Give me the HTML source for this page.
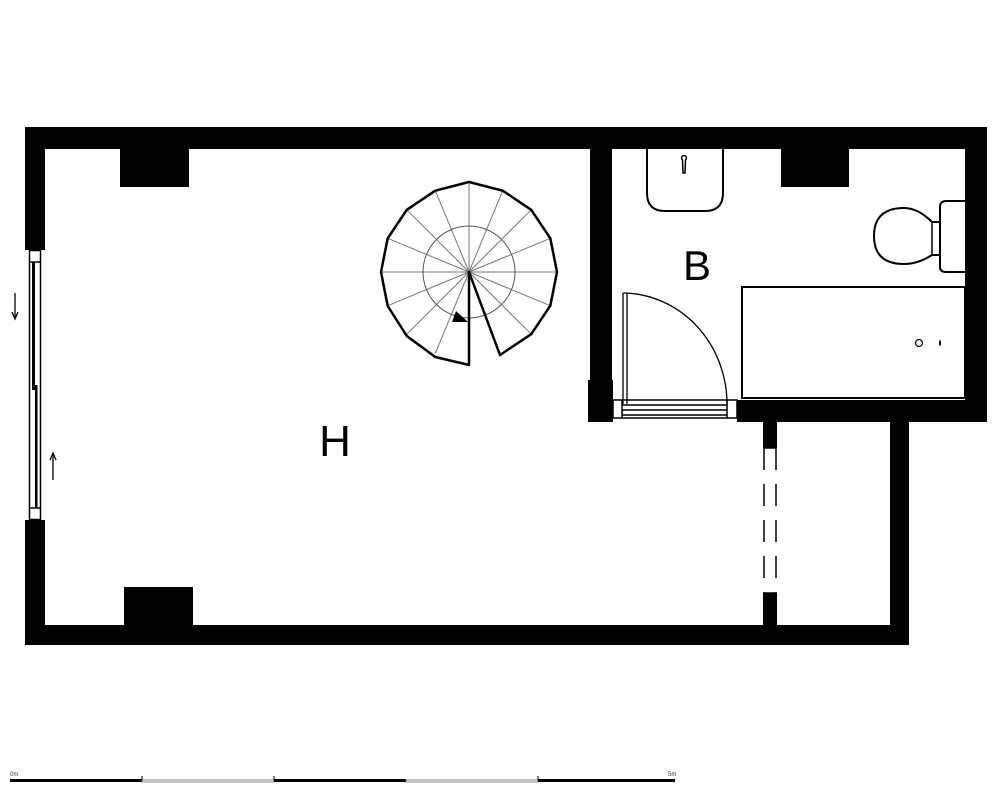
<!DOCTYPE html>
<html><head><meta charset="utf-8"><style>
html,body{margin:0;padding:0;background:#fff;width:1000px;height:800px;overflow:hidden}
svg{display:block}
text{font-family:"Liberation Sans",sans-serif}
</style></head><body>
<svg width="1000" height="800" viewBox="0 0 1000 800" xmlns="http://www.w3.org/2000/svg">
<g fill="#000">
<rect x="25" y="127" width="962" height="22"/>
<rect x="25" y="127" width="20" height="123"/>
<rect x="25" y="520" width="20" height="125"/>
<rect x="25" y="625" width="884" height="20"/>
<rect x="890" y="400" width="19" height="245"/>
<rect x="965" y="127" width="22" height="295"/>
<rect x="737" y="400" width="250" height="22"/>
<rect x="590" y="127" width="22" height="295"/>
<rect x="120" y="149" width="69" height="38"/>
<rect x="124" y="587" width="69" height="38"/>
<rect x="781" y="149" width="68" height="38"/>
<rect x="763" y="422" width="14" height="26"/>
<rect x="763" y="593" width="14" height="32"/>
</g>
<!-- dashed opening -->
<g stroke="#000" stroke-width="1.5">
<line x1="764" y1="448" x2="776" y2="448"/>
<line x1="764" y1="593" x2="776" y2="593"/>
<line x1="764" y1="448" x2="764" y2="593" stroke-dasharray="22,14"/>
<line x1="776" y1="448" x2="776" y2="593" stroke-dasharray="22,14"/>
</g>
<!-- left window -->
<g fill="none" stroke="#000" stroke-width="1.5">
<rect x="29.5" y="250.5" width="11" height="269"/>
<line x1="29.5" y1="262" x2="40.5" y2="262"/>
<line x1="29.5" y1="508" x2="40.5" y2="508"/>
</g>
<rect x="32" y="262" width="3" height="128" fill="#000"/>
<rect x="35" y="385" width="2.5" height="123" fill="#000"/>
<g stroke="#000" stroke-width="1.3" fill="none">
<line x1="15" y1="293" x2="15" y2="318"/><path d="M12,312 L15,319 L18,312"/>
<line x1="53" y1="480" x2="53" y2="454"/><path d="M50,460 L53,453 L56,460"/>
</g>
<!-- door threshold -->
<g fill="none" stroke="#000" stroke-width="1.5">
<rect x="613" y="400" width="124" height="18"/>
<line x1="622" y1="405" x2="727" y2="405"/>
<line x1="622" y1="410" x2="727" y2="410"/>
<line x1="622" y1="415" x2="727" y2="415"/>
<line x1="622" y1="400" x2="622" y2="418"/>
<line x1="727" y1="400" x2="727" y2="418"/>
</g>
<rect x="588" y="380" width="25" height="42" fill="#000"/>
<!-- door -->
<g fill="none" stroke="#000" stroke-width="1.3">
<line x1="623" y1="293" x2="623" y2="404"/>
<line x1="627" y1="293" x2="627" y2="404"/>
<path d="M623,293 A105,111 0 0 1 727,404"/>
</g>
<!-- bathtub -->
<rect x="742" y="287" width="223" height="111" fill="none" stroke="#000" stroke-width="2"/>
<circle cx="919" cy="343" r="3.5" fill="none" stroke="#000" stroke-width="1.2"/>
<ellipse cx="940" cy="343" rx="1" ry="3" fill="#000"/>
<!-- sink -->
<path d="M647,149 L647,193 Q647,211 665,211 L705,211 Q723,211 723,193 L723,149" fill="none" stroke="#000" stroke-width="2"/>
<path d="M682.5,160 a2.5,2.5 0 1 1 3,0 L685,173 L683,173 Z" fill="none" stroke="#000" stroke-width="1.5"/>
<!-- toilet -->
<path d="M966,201 L946,201 Q940,201 940,207 L940,267 Q940,272 946,272 L966,272" fill="none" stroke="#000" stroke-width="2"/>
<line x1="932" y1="222" x2="932" y2="255" stroke="#000" stroke-width="1.5"/>
<path d="M940,222 L932,222 Q918,208 904,208 Q874,208 874,236 Q874,264 904,264 Q918,264 932,255 L940,255" fill="none" stroke="#000" stroke-width="2"/>
<!-- spiral stair -->
<g stroke="#777" stroke-width="1">
<line x1="469" y1="272" x2="469" y2="184"/>
<line x1="469" y1="272" x2="502.7" y2="190.7"/>
<line x1="469" y1="272" x2="531.2" y2="209.8"/>
<line x1="469" y1="272" x2="550.3" y2="238.3"/>
<line x1="469" y1="272" x2="557" y2="272"/>
<line x1="469" y1="272" x2="550.3" y2="305.7"/>
<line x1="469" y1="272" x2="531.2" y2="334.2"/>
<line x1="469" y1="272" x2="435.3" y2="353.3"/>
<line x1="469" y1="272" x2="406.8" y2="334.2"/>
<line x1="469" y1="272" x2="387.7" y2="305.7"/>
<line x1="469" y1="272" x2="381" y2="272"/>
<line x1="469" y1="272" x2="387.7" y2="238.3"/>
<line x1="469" y1="272" x2="406.8" y2="209.8"/>
<line x1="469" y1="272" x2="435.3" y2="190.7"/>
</g>
<circle cx="469" cy="272" r="46" fill="none" stroke="#555" stroke-width="1"/>
<polygon points="469,272 469,365 435.3,357 406.8,336 387.7,306 381,272 387.7,238.3 406.8,209.8 435.3,190.7 469,182 502.7,190.7 531.2,209.8 550.3,238.3 557,272 550.3,305.7 531.2,334.2 500,355" fill="none" stroke="#000" stroke-width="2.5" stroke-linejoin="round"/>
<polygon points="452,322 456,311 468,322" fill="#000"/>
<!-- labels -->
<text x="335" y="456" font-size="44" text-anchor="middle">H</text>
<text x="697" y="280" font-size="42" text-anchor="middle">B</text>
<!-- scale bar -->
<g>
<rect x="10" y="779" width="132" height="3" fill="#000"/>
<rect x="142" y="780" width="132" height="2" fill="none" stroke="#666" stroke-width="0.8"/>
<rect x="274" y="779" width="132" height="3" fill="#000"/>
<rect x="406" y="780" width="132" height="2" fill="none" stroke="#666" stroke-width="0.8"/>
<rect x="538" y="779" width="137" height="3" fill="#000"/>
<line x1="142" y1="776" x2="142" y2="780" stroke="#000"/>
<line x1="274" y1="776" x2="274" y2="780" stroke="#000"/>
<line x1="538" y1="776" x2="538" y2="780" stroke="#000"/>
<text x="10" y="776" font-size="6" fill="#333">0m</text>
<text x="668" y="776" font-size="6" fill="#333">5m</text>
</g>
</svg>
</body></html>
